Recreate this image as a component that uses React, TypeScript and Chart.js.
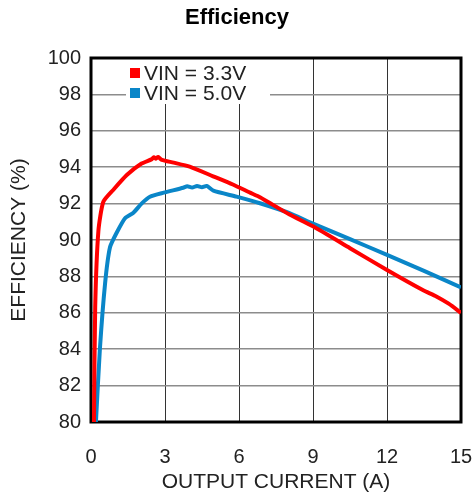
import React, { useEffect, useRef } from "react";
import { Chart, registerables } from "chart.js";

Chart.register(...registerables);

const FONT = "'Liberation Sans', Arial, Helvetica, sans-serif";

const seriesLabels = ["VIN = 3.3V", "VIN = 5.0V"];
const seriesColors = ["#ff0000", "#0a86c8"];

const current3v3 = [0.12, 0.17, 0.3, 0.5, 0.9, 1.45, 2.05, 2.45, 2.55, 2.62, 2.72, 2.87, 3.35, 4.0, 4.95, 5.75, 6.45, 6.85, 8.05, 9.0, 10.5, 12.0, 13.45, 14.0, 14.5, 15.0];
const eff3v3 = [80.0, 86.3, 90.5, 92.1, 92.75, 93.57, 94.2, 94.43, 94.55, 94.47, 94.56, 94.4, 94.25, 94.03, 93.5, 93.05, 92.6, 92.35, 91.4, 90.75, 89.55, 88.35, 87.25, 86.9, 86.5, 86.0];

const current5v0 = [0.2, 0.36, 0.57, 0.77, 1.04, 1.38, 1.72, 2.05, 2.39, 2.95, 3.74, 3.9, 4.1, 4.3, 4.5, 4.69, 4.96, 5.9, 6.85, 8.0, 9.0, 10.5, 12.0, 13.5, 15.0];
const eff5v0 = [80.0, 84.0, 87.6, 89.6, 90.4, 91.2, 91.5, 92.0, 92.38, 92.6, 92.87, 92.95, 92.88, 92.97, 92.9, 92.97, 92.71, 92.38, 92.02, 91.5, 90.9, 90.05, 89.18, 88.3, 87.4];

const xTicks = [0, 3, 6, 9, 12, 15];
const yTicks = [80, 82, 84, 86, 88, 90, 92, 94, 96, 98, 100];

const chartTitle = "Efficiency";
const xTitle = "OUTPUT CURRENT (A)";
const yTitle = "EFFICIENCY (%)";

const toPoints = (xs: number[], ys: number[]) => xs.map((x, i) => ({ x, y: ys[i] }));

const frameAndLegend = {
  id: "frameAndLegend",
  beforeDatasetsDraw(chart: any) {
    const { ctx, chartArea } = chart;
    const { left, top, right, bottom } = chartArea;
    ctx.save();
    const bx = left + 35;
    const by = top + 1;
    ctx.fillStyle = "#ffffff";
    ctx.fillRect(bx, by, 144, 45);
    ctx.strokeStyle = "#000000";
    ctx.lineWidth = 3;
    ctx.strokeRect(left, top, right - left, bottom - top);
    ctx.font = "21px " + FONT;
    ctx.textBaseline = "middle";
    ctx.textAlign = "left";
    chart.data.datasets.forEach((ds: any, i: number) => {
      const cy = top + 15 + i * 20;
      ctx.fillStyle = ds.borderColor;
      ctx.fillRect(bx + 4, cy - 5, 10, 10);
      ctx.fillStyle = "#222222";
      ctx.fillText(ds.label, bx + 18, cy + 1);
    });
    ctx.restore();
  },
};

export default function App() {
  const ref = useRef<HTMLCanvasElement | null>(null);
  useEffect(() => {
    document.body.style.margin = "0";
    const canvas = ref.current;
    if (!canvas) return;
    const chart = new Chart(canvas, {
      type: "line",
      data: {
        datasets: [
          {
            label: seriesLabels[0],
            data: toPoints(current3v3, eff3v3),
            borderColor: seriesColors[0],
            backgroundColor: seriesColors[0],
            borderWidth: 4,
            pointRadius: 0,
            tension: 0.2,
          },
          {
            label: seriesLabels[1],
            data: toPoints(current5v0, eff5v0),
            borderColor: seriesColors[1],
            backgroundColor: seriesColors[1],
            borderWidth: 4,
            pointRadius: 0,
            tension: 0.2,
          },
        ],
      },
      options: {
        responsive: false,
        animation: false,
        devicePixelRatio: 1,
        layout: { padding: 0 },
        plugins: {
          legend: { display: false },
          tooltip: { enabled: false },
          title: {
            display: true,
            text: chartTitle,
            color: "#000000",
            font: { family: FONT, size: 22, weight: "bold" },
            padding: { top: 5, bottom: 26.6 },
          },
        },
        scales: {
          x: {
            type: "linear",
            min: 0,
            max: 15,
            afterBuildTicks: (axis: any) => {
              axis.ticks = xTicks.map((v) => ({ value: v }));
            },
            afterFit: (axis: any) => {
              axis.height = 78;
              axis.paddingRight = 13;
              axis.paddingLeft = 0;
            },
            ticks: {
              color: "#222222",
              font: { family: FONT, size: 20 },
              padding: 23,
              maxRotation: 0,
            },
            grid: { color: "#333333", lineWidth: 1, drawTicks: false },
            border: { display: false },
            title: {
              display: true,
              text: xTitle,
              color: "#222222",
              font: { family: FONT, size: 21 },
              padding: { top: 0, bottom: 5.5 },
            },
          },
          y: {
            type: "linear",
            min: 80,
            max: 100,
            afterBuildTicks: (axis: any) => {
              axis.ticks = yTicks.map((v) => ({ value: v }));
            },
            afterFit: (axis: any) => {
              axis.width = 91;
              axis.paddingTop = 0;
              axis.paddingBottom = 0;
            },
            ticks: {
              color: "#222222",
              font: { family: FONT, size: 20 },
              padding: 10,
            },
            grid: { color: "#8c8c8c", lineWidth: 1.5, drawTicks: false },
            border: { display: false },
            title: {
              display: true,
              text: yTitle,
              color: "#222222",
              font: { family: FONT, size: 21 },
              padding: { top: 7, bottom: 0 },
            },
          },
        },
      },
      plugins: [frameAndLegend],
    } as any);
    return () => chart.destroy();
  }, []);
  return (
    <div style={{ width: 474, height: 500 }}>
      <canvas ref={ref} width={474} height={500} />
    </div>
  );
}
